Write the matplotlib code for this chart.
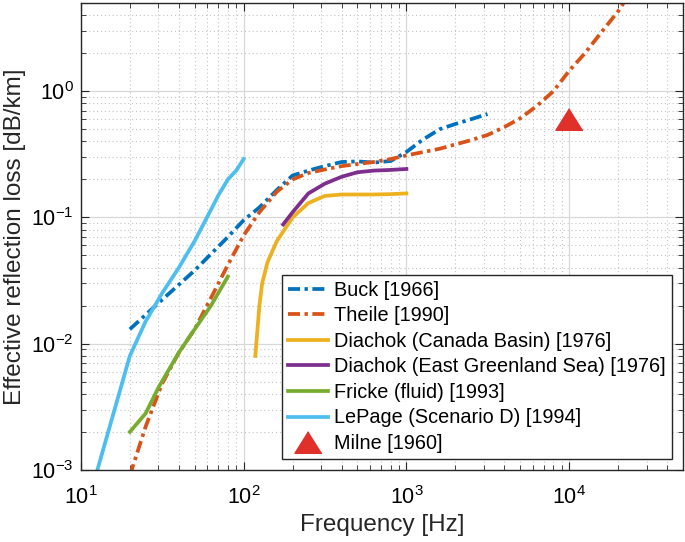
import matplotlib
matplotlib.use("Agg")
import matplotlib.pyplot as plt
from matplotlib.ticker import LogLocator, NullFormatter

plt.rcParams['font.family'] = ['Liberation Sans', 'DejaVu Sans']
plt.rcParams['mathtext.fontset'] = 'custom'
plt.rcParams['mathtext.rm'] = 'Liberation Sans'
plt.rcParams['mathtext.it'] = 'Liberation Sans'

# ---- data ----
buck_f = [20, 30, 50, 80, 100, 125, 160, 200, 250, 315, 400, 500, 630, 800, 1000, 1250, 1600, 2000, 2500, 3150]
buck_a = [0.013, 0.021, 0.038, 0.07, 0.095, 0.12, 0.165, 0.215, 0.235, 0.255, 0.275, 0.278, 0.272, 0.28, 0.33, 0.41, 0.5, 0.55, 0.6, 0.66]

theile_f = [20, 25, 31.5, 40, 50, 63, 80, 100, 125, 160, 200, 250, 315, 400, 500, 630, 800, 1000, 1600, 2500, 3150, 4000, 5000, 6300, 8000, 10000, 12500, 16000, 20000, 22000]
theile_a = [0.0009, 0.0022, 0.0048, 0.0085, 0.013, 0.023, 0.042, 0.072, 0.11, 0.16, 0.2, 0.225, 0.24, 0.255, 0.265, 0.275, 0.29, 0.31, 0.35, 0.41, 0.45, 0.52, 0.61, 0.76, 1.0, 1.45, 2.0, 3.0, 4.3, 5.2]

canada_f = [118, 125, 130, 140, 160, 200, 250, 315, 400, 500, 630, 800, 1000]
canada_a = [0.008, 0.02, 0.03, 0.044, 0.065, 0.1, 0.13, 0.148, 0.152, 0.152, 0.152, 0.153, 0.155]

greenland_f = [175, 200, 250, 315, 400, 500, 630, 800, 1000]
greenland_a = [0.088, 0.11, 0.155, 0.185, 0.21, 0.228, 0.235, 0.238, 0.242]

fricke_f = [20, 25, 30, 40, 50, 63, 80]
fricke_a = [0.002, 0.0028, 0.0045, 0.0085, 0.013, 0.02, 0.034]

lepage_f = [12.5, 20, 25, 31.5, 40, 50, 63, 70, 80, 90, 100]
lepage_a = [0.00095, 0.008, 0.015, 0.025, 0.04, 0.065, 0.115, 0.15, 0.2, 0.235, 0.29]

milne_f = [10000]
milne_a = [0.6]

labels = ["Buck [1966]", "Theile [1990]", "Diachok (Canada Basin) [1976]",
          "Diachok (East Greenland Sea) [1976]", "Fricke (fluid) [1993]",
          "LePage (Scenario D) [1994]", "Milne [1960]"]

fig = plt.figure(figsize=(6.85, 5.42), dpi=100)
ax = fig.add_axes([0.118, 0.133, 0.879, 0.8615])

lw = 2.7
dd = (0, (3.2, 1.2, 0.9, 1.2))
ax.plot(buck_f, buck_a, color='#0072BD', lw=lw, linestyle=dd, label=labels[0])
ax.plot(theile_f, theile_a, color='#D95319', lw=lw, linestyle=dd, label=labels[1])
ax.plot(canada_f, canada_a, color='#EDB120', lw=lw, label=labels[2])
ax.plot(greenland_f, greenland_a, color='#7E2F8E', lw=lw, label=labels[3])
ax.plot(fricke_f, fricke_a, color='#77AC30', lw=lw, label=labels[4])
ax.plot(lepage_f, lepage_a, color='#4DBEEE', lw=lw, label=labels[5])
tri = [(0, 0.8), (-1, -0.8), (1, -0.8)]
ax.plot(milne_f, milne_a, linestyle='none', marker=tri, ms=19.5, color='#E0302A',
        markeredgecolor='#E0302A', label=labels[6])

ax.set_xscale('log')
ax.set_yscale('log')
ax.set_xlim(10, 5e4)
ax.set_ylim(1e-3, 5)

ax.xaxis.set_major_locator(LogLocator(base=10, numticks=10))
ax.yaxis.set_major_locator(LogLocator(base=10, numticks=10))
ax.xaxis.set_minor_locator(LogLocator(base=10, subs=range(2, 10), numticks=20))
ax.yaxis.set_minor_locator(LogLocator(base=10, subs=range(2, 10), numticks=20))
ax.xaxis.set_minor_formatter(NullFormatter())
ax.yaxis.set_minor_formatter(NullFormatter())

ax.grid(True, which='major', color='#d8d8d8', lw=0.9, linestyle='-')
ax.grid(True, which='minor', color='#c4c4c4', lw=0.8, linestyle=(0, (1, 2.5)))
ax.set_axisbelow(True)

ax.tick_params(which='both', direction='in', top=True, right=True, labelsize=15.5, color='#262626')
ax.tick_params(which='major', length=6)
ax.tick_params(which='minor', length=3.5)
ax.tick_params(axis='x', which='major', pad=12)
ax.tick_params(axis='y', which='major', pad=5)
for s in ax.spines.values():
    s.set_color('#262626')
    s.set_linewidth(1.0)

ax.set_xlabel('Frequency [Hz]', fontsize=17.5, color='#262626', labelpad=3)
ax.set_ylabel('Effective reflection loss [dB/km]', fontsize=17.5, color='#262626', labelpad=4)

leg = ax.legend(loc='lower right', fontsize=14.3, frameon=True, fancybox=False,
                edgecolor='#262626', framealpha=1, handlelength=2.05,
                borderaxespad=0.55, labelspacing=0.33, borderpad=0.3, handletextpad=0.3)
leg.get_frame().set_linewidth(1.0)

fig.savefig('out.png', dpi=100)
